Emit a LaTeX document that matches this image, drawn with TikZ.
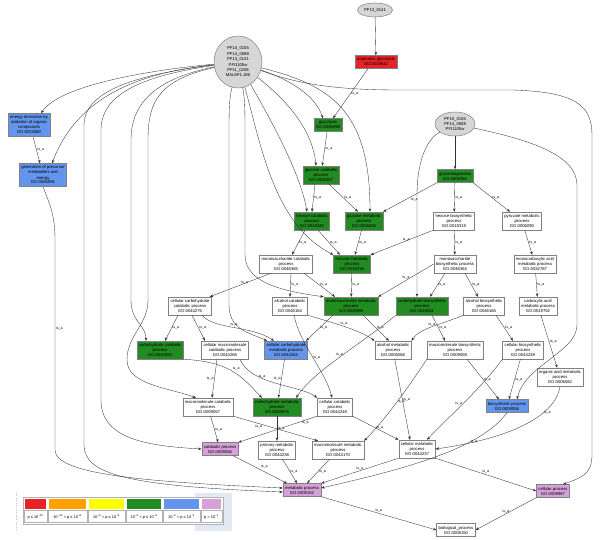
\documentclass[tikz,border=0pt]{standalone}
\usepackage{fontspec}
\setmainfont{Liberation Sans}
\usepackage{tikz}
\usetikzlibrary{arrows.meta, positioning, shapes.geometric, calc}

\definecolor{gored}{RGB}{232,35,38}
\definecolor{goorange}{RGB}{255,160,0}
\definecolor{goyellow}{RGB}{255,255,0}
\definecolor{gogreen}{RGB}{34,139,34}
\definecolor{goblue}{RGB}{100,149,237}
\definecolor{gopink}{RGB}{214,160,216}
\definecolor{goline}{RGB}{128,128,128}
\definecolor{legendbg}{RGB}{226,233,243}

\tikzset{
  gobox/.style={draw=goline, line width=0.5pt, fill=white, rectangle, align=center,
    inner xsep=2pt, inner ysep=2.4pt, font=\fontsize{4.2}{5}\selectfont},
  gene/.style={draw=goline, line width=0.5pt, fill=gray!32, ellipse, align=center,
    inner sep=0pt, font=\fontsize{4.2}{5.4}\selectfont},
  isa/.style={draw=black!80, line width=0.35pt, -{Stealth[length=3.5pt,width=2.6pt]}},
  ann/.style={isa},
  lbl/.style={font=\fontsize{3.6}{4}\selectfont, inner sep=0.8pt},
  legtxt/.style={font=\fontsize{3.9}{4}\selectfont, inner sep=0pt}
}

\begin{document}
\begin{tikzpicture}[x=1pt, y=-1pt]
\useasboundingbox (0,0) rectangle (600,540);

% gene sets
\node[gene, minimum width=35pt, minimum height=14pt] (g3) at (375,10) {PF13\_0141};
\node[gene, minimum width=48pt, minimum height=52pt] (g1) at (238,62)
  {PF10\_0155\\PF14\_0598\\PF13\_0141\\PFI1105w\\PF11\_0208\\MAL8P1.180};
\node[gene, minimum width=40pt, minimum height=24pt] (g2) at (455,124)
  {PF10\_0155\\PF14\_0598\\PFI1105w};

% GO terms
\node[gobox, fill=gored] (anaerobic) at (376,62) {anaerobic glycolysis\\GO:0019642};
\node[gobox, fill=goblue] (energy) at (29,125) {energy derivation by\\oxidation of organic\\compounds\\GO:0015980};
\node[gobox, fill=goblue] (genprec) at (43,175) {generation of precursor\\metabolites and\\energy\\GO:0006091};
\node[gobox, fill=gogreen] (glycolysis) at (328,125) {glycolysis\\GO:0006096};
\node[gobox, fill=gogreen] (glccat) at (321,175) {glucose catabolic\\process\\GO:0006007};
\node[gobox, fill=gogreen] (gluconeo) at (455,176) {gluconeogenesis\\GO:0006094};
\node[gobox, fill=gogreen] (hexcat) at (312,221) {hexose catabolic\\process\\GO:0019320};
\node[gobox, fill=gogreen] (glcmet) at (364,221) {glucose metabolic\\process\\GO:0006006};
\node[gobox] (hexbio) at (454,221) {hexose biosynthetic\\process\\GO:0019319};
\node[gobox] (pyruvate) at (522,221) {pyruvate metabolic\\process\\GO:0006090};
\node[gobox] (monocat) at (286,264) {monosaccharide catabolic\\process\\GO:0046365};
\node[gobox, fill=gogreen] (hexmet) at (352,264) {hexose metabolic\\process\\GO:0019318};
\node[gobox] (monobio) at (455,264) {monosaccharide\\biosynthetic process\\GO:0046364};
\node[gobox] (monocarb) at (535,264) {monocarboxylic acid\\metabolic process\\GO:0032787};
\node[gobox] (cellcarbcat) at (190,306) {cellular carbohydrate\\catabolic process\\GO:0044275};
\node[gobox] (alccat) at (290,306) {alcohol catabolic\\process\\GO:0046164};
\node[gobox, fill=gogreen] (monomet) at (351,306) {monosaccharide metabolic\\process\\GO:0005996};
\node[gobox, fill=gogreen] (carbbio) at (422,306) {carbohydrate biosynthetic\\process\\GO:0016051};
\node[gobox] (alcbio) at (484,306) {alcohol biosynthetic\\process\\GO:0046165};
\node[gobox] (carboxy) at (538,306) {carboxylic acid\\metabolic process\\GO:0019752};
\node[gobox, fill=gogreen] (carbcat) at (160,350) {carbohydrate catabolic\\process\\GO:0016052};
\node[gobox] (cellmacrocat) at (225,350) {cellular macromolecule\\catabolic process\\GO:0044265};
\node[gobox, fill=goblue] (cellcarbmet) at (286,350) {cellular carbohydrate\\metabolic process\\GO:0044262};
\node[gobox] (alcmet) at (393,350) {alcohol metabolic\\process\\GO:0006066};
\node[gobox] (macrobio) at (455,350) {macromolecule biosynthetic\\process\\GO:0009059};
\node[gobox] (cellbio) at (523,350) {cellular biosynthetic\\process\\GO:0044249};
\node[gobox] (orgacid) at (560,377) {organic acid metabolic\\process\\GO:0006082};
\node[gobox] (macrocat) at (208,407) {macromolecule catabolic\\process\\GO:0009057};
\node[gobox, fill=gogreen] (carbmet) at (277,407) {carbohydrate metabolic\\process\\GO:0005975};
\node[gobox] (cellcat) at (335,407) {cellular catabolic\\process\\GO:0044248};
\node[gobox, fill=goblue] (biosyn) at (507,406) {biosynthetic process\\GO:0009058};
\node[gobox, fill=gopink] (catab) at (220,449) {catabolic process\\GO:0009056};
\node[gobox] (primmet) at (277,450) {primary metabolic\\process\\GO:0044238};
\node[gobox] (macromet) at (338,450) {macromolecule metabolic\\process\\GO:0043170};
\node[gobox] (cellmet) at (417,449) {cellular metabolic\\process\\GO:0044237};
\node[gobox, fill=gopink] (metab) at (302,490) {metabolic process\\GO:0008152};
\node[gobox, fill=gopink] (cellproc) at (553,491) {cellular process\\GO:0009987};
\node[gobox] (bioproc) at (456,530) {biological\_process\\GO:0008150};

% annotations
\draw[ann] (g3) -- (anaerobic);
\draw[ann] (g1) .. controls (150,70) and (60,85) .. ([xshift=12pt]energy.north);
\draw[ann] (g1) .. controls (150,72) and (80,90) .. ([xshift=9pt]genprec.north);
\draw[ann] (g1) .. controls (140,74) and (84,90) .. (84,125) -- (84,445) .. controls (84,475) and (130,486) .. ([yshift=-2pt]metab.west);
\draw[ann] (g1) .. controls (140,76) and (101,95) .. (101,130) -- (101,400) .. controls (101,440) and (150,446) .. (catab.west);
\draw[ann] (g1) .. controls (160,80) and (148,100) .. (148,140) -- (148,300) .. controls (148,325) and (127,335) .. (127,360) .. controls (127,385) and (170,388) .. ([xshift=-12pt]macrocat.north);
\draw[ann] (g1) .. controls (160,78) and (131,100) .. (131,140) -- (131,300) .. controls (131,322) and (146,325) .. ([xshift=-14pt]carbcat.north);
\draw[ann] (g1) .. controls (290,80) and (315,95) .. ([xshift=-5pt]glycolysis.north);
\draw[ann] (g1) .. controls (280,95) and (312,125) .. ([xshift=-5pt]glccat.north);
\draw[ann] (g1) .. controls (265,110) and (300,170) .. ([xshift=-5pt]hexcat.north);
\draw[ann] (g1) .. controls (330,85) and (370,110) .. ([xshift=6pt]glcmet.north);
\draw[ann] (g1) .. controls (262,150) and (275,225) .. (hexmet.north west);
\draw[ann] (g1) .. controls (245,100) and (245,110) .. (245,140) -- (245,255) .. controls (245,285) and (290,292) .. (monomet.north west);
\draw[ann] (g1) .. controls (229,100) and (229,110) .. (229,140) -- (229,305) .. controls (229,330) and (250,333) .. ([xshift=3pt]cellcarbmet.north west);
\draw[ann] (g1) .. controls (300,85) and (340,90) .. (400,90) -- (513,90) .. controls (575,92) and (592,105) .. (592,135) -- (592,455) .. controls (592,475) and (580,478) .. ([xshift=10pt]cellproc.north);
\draw[ann] (g2) -- (gluconeo);
\draw[ann] (g2) .. controls (425,140) and (417,165) .. (417,195) -- ([xshift=-5pt]carbbio.north);
\draw[ann] (g2) .. controls (530,140) and (577,155) .. (577,185) -- (577,325) .. controls (577,352) and (525,365) .. ([xshift=10pt]biosyn.north);

% is_a links
\draw[isa] ([xshift=-8pt]anaerobic.south) -- ([xshift=5pt]glycolysis.north) node[lbl,midway,right]{is\_a};
\draw[isa] ([xshift=4pt]energy.south) -- ([xshift=-3pt]genprec.north) node[lbl,midway,right]{is\_a};
\draw[isa] (genprec.south) .. controls (50,205) and (55,215) .. (55,240) -- (55,450) node[lbl,pos=0.42,right]{is\_a} .. controls (55,475) and (150,482) .. ([yshift=2pt]metab.west);
\draw[isa] (glycolysis) -- (glccat) node[lbl,midway,right]{is\_a};
\draw[isa] ([xshift=-6pt]glccat.south) -- (hexcat.north) node[lbl,midway,right]{is\_a};
\draw[isa] ([xshift=8pt]glccat.south) -- ([xshift=-6pt]glcmet.north) node[lbl,midway,right]{is\_a};
\draw[isa] (gluconeo.south west) -- (glcmet.north east) node[lbl,midway,below right]{is\_a};
\draw[isa] (gluconeo) -- (hexbio) node[lbl,midway,right]{is\_a};
\draw[isa] (gluconeo.south east) -- ([xshift=-12pt]pyruvate.north) node[lbl,midway,right]{is\_a};
\draw[isa] ([xshift=-7pt]hexcat.south) -- ([xshift=6pt]monocat.north) node[lbl,midway,right]{is\_a};
\draw[isa] ([xshift=6pt]hexcat.south) -- ([xshift=-12pt]hexmet.north) node[lbl,midway,right]{is\_a};
\draw[isa] (glcmet) -- ([xshift=3pt]hexmet.north) node[lbl,midway,right]{is\_a};
\draw[isa] (hexbio.south west) -- (hexmet.north east) node[lbl,midway,above right]{is\_a};
\draw[isa] (hexbio) -- (monobio) node[lbl,midway,right]{is\_a};
\draw[isa] (pyruvate) -- (monocarb) node[lbl,midway,right]{is\_a};
\draw[isa] ([xshift=-15pt]monocat.south) -- ([xshift=-2pt]cellcarbcat.north east) node[lbl,midway,above right]{is\_a};
\draw[isa] ([xshift=5pt]monocat.south) -- (alccat.north) node[lbl,midway,right]{is\_a};
\draw[isa] ([xshift=18pt]monocat.south) -- ([xshift=-16pt]monomet.north) node[lbl,midway,right]{is\_a};
\draw[isa] (hexmet) -- (monomet) node[lbl,midway,right]{is\_a};
\draw[isa] (monobio.west) -- (monomet.north east) node[lbl,midway,above]{is\_a};
\draw[isa] ([xshift=-10pt]monobio.south) -- ([xshift=8pt]carbbio.north) node[lbl,midway,right]{is\_a};
\draw[isa] ([xshift=10pt]monobio.south) -- ([xshift=-6pt]alcbio.north) node[lbl,midway,right]{is\_a};
\draw[isa] (monocarb) -- (carboxy) node[lbl,midway,right]{is\_a};
\draw[isa] (carboxy) -- (orgacid) node[lbl,midway,right]{is\_a};
\draw[isa] ([xshift=-12pt]cellcarbcat.south) -- ([xshift=5pt]carbcat.north) node[lbl,midway,right]{is\_a};
\draw[isa] ([xshift=2pt]cellcarbcat.south) -- ([xshift=-20pt]cellmacrocat.north) node[lbl,midway,right]{is\_a};
\draw[isa] ([xshift=12pt]cellcarbcat.south) .. controls (215,330) and (250,325) .. ([xshift=-12pt]cellcarbmet.north) node[lbl,midway,above]{is\_a};
\draw[isa] (alccat.south east) .. controls (330,322) and (360,330) .. (alcmet.north west) node[lbl,midway,above]{is\_a};
\draw[isa] ([xshift=4pt]alccat.south) .. controls (300,345) and (325,370) .. ([xshift=-3pt]cellcat.north) node[lbl,midway,right]{is\_a};
\draw[isa] ([xshift=-18pt]monomet.south) -- ([xshift=20pt]cellcarbmet.north) node[lbl,midway,right]{is\_a};
\draw[isa] ([xshift=12pt]monomet.south) -- ([xshift=-4pt]alcmet.north) node[lbl,midway,right]{is\_a};
\draw[isa] (carbbio.south west) .. controls (360,345) and (315,370) .. ([xshift=-5pt]carbmet.north east) node[lbl,midway,above]{is\_a};
\draw[isa] ([xshift=10pt]carbbio.south) -- ([xshift=-10pt]macrobio.north) node[lbl,midway,right]{is\_a};
\draw[isa] (alcbio.south west) .. controls (440,325) and (420,328) .. (alcmet.north east) node[lbl,midway,above]{is\_a};
\draw[isa] ([xshift=12pt]alcbio.south) -- ([xshift=-10pt]cellbio.north) node[lbl,midway,right]{is\_a};
\draw[isa] (carbcat.south east) .. controls (230,362) and (240,375) .. ([xshift=-15pt]carbmet.north) node[lbl,midway,above right]{is\_a};
\draw[isa] ([xshift=-8pt]cellmacrocat.south) -- ([xshift=4pt]macrocat.north) node[lbl,midway,left]{is\_a};
\draw[isa] ([xshift=15pt]cellmacrocat.south) .. controls (250,385) and (300,385) .. (cellcat.north west) node[lbl,pos=0.3,right]{is\_a};
\draw[isa] (cellcarbmet) -- (carbmet) node[lbl,midway,left]{is\_a};
\draw[isa] (alcmet) -- ([xshift=-7pt]cellmet.north) node[lbl,midway,right]{is\_a};
\draw[isa] (macrobio.south west) .. controls (410,385) and (385,420) .. (macromet.north east) node[lbl,midway,right]{is\_a};
\draw[isa] ([xshift=12pt]macrobio.south) -- ([xshift=-8pt]biosyn.north) node[lbl,midway,right]{is\_a};
\draw[isa] (cellbio) -- (biosyn) node[lbl,midway,right]{is\_a};
\draw[isa] (cellbio.south west) .. controls (480,390) and (445,420) .. ([xshift=10pt]cellmet.north) node[lbl,midway,left]{is\_a};
\draw[isa] (orgacid.south) .. controls (555,420) and (500,440) .. (cellmet.east) node[lbl,pos=0.3,right]{is\_a};
\draw[isa] (macrocat) -- (catab) node[lbl,midway,right]{is\_a};
\draw[isa] (macrocat.south east) -- ([xshift=-20pt]macromet.north) node[lbl,pos=0.3,below]{is\_a};
\draw[isa] (carbmet) -- (primmet) node[lbl,midway,right]{is\_a};
\draw[isa] (cellcat.south west) -- (catab.north east) node[lbl,pos=0.15,below]{is\_a};
\draw[isa] (cellcat.south east) -- (cellmet.north west) node[lbl,midway,right]{is\_a};
\draw[isa] (catab) -- ([xshift=-15pt]metab.north) node[lbl,midway,above right]{is\_a};
\draw[isa] (primmet) -- ([xshift=-5pt]metab.north) node[lbl,midway,right]{is\_a};
\draw[isa] (macromet) -- ([xshift=5pt]metab.north) node[lbl,midway,right]{is\_a};
\draw[isa] (cellmet.south west) -- (metab.north east) node[lbl,midway,above]{is\_a};
\draw[isa] (cellmet.south east) -- (cellproc.west) node[lbl,midway,above]{is\_a};
\draw[isa] (biosyn.south) .. controls (480,450) and (400,470) .. ([yshift=2pt]metab.east) node[lbl,pos=0.3,right]{is\_a};
\draw[isa] (metab.south east) -- (bioproc.west) node[lbl,midway,above]{is\_a};
\draw[isa] (cellproc.south west) -- (bioproc.east) node[lbl,midway,above]{is\_a};

% legend
\fill[legendbg] (195,493) rectangle (232,531);
\draw[gray!50, dotted] (16,493) -- (16,530);
\draw[gray!60, fill=white] (23,497) rectangle (223,524);
\foreach \xa/\xb/\col/\txt in {24/47/gored/{p ≤ 10\textsuperscript{−10}}, 48/87/goorange/{10\textsuperscript{−10} < p ≤ 10\textsuperscript{−8}},
    88/125/goyellow/{10\textsuperscript{−8} < p ≤ 10\textsuperscript{−6}}, 126/162/gogreen/{10\textsuperscript{−6} < p ≤ 10\textsuperscript{−4}},
    163/200/goblue/{10\textsuperscript{−4} < p ≤ 10\textsuperscript{−2}}, 201/222/gopink/{p > 10\textsuperscript{−2}}}
{
  \fill[\col] (\xa+1,499) rectangle (\xb-1,509);
  \draw[gray!60] (\xa,510.5) rectangle (\xb,522);
  \node[legtxt] at ({(\xa+\xb)/2},516.5) {\txt};
}
\end{tikzpicture}
\end{document}
